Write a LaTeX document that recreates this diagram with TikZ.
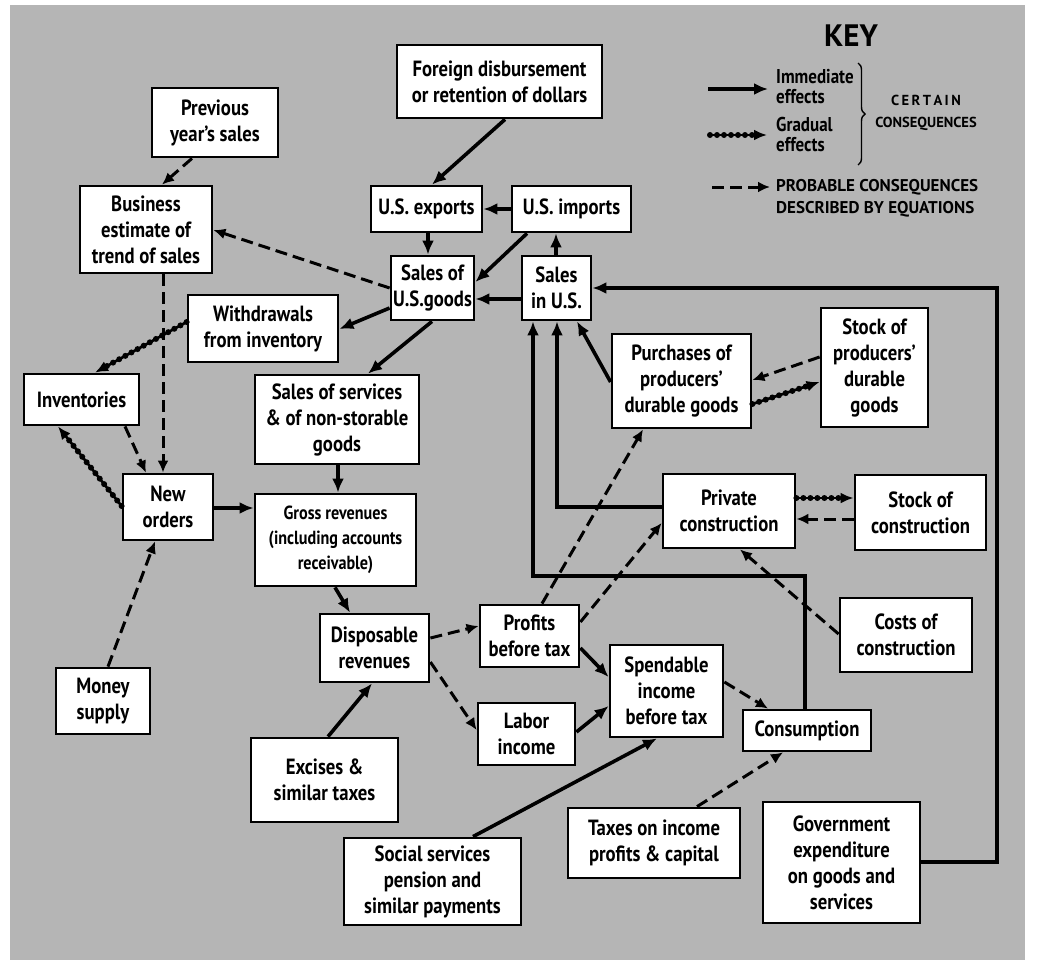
\documentclass[tikz,border=0pt]{standalone}
\usepackage{fontspec}
\setmainfont[FakeStretch=0.85]{PT Sans}
\newfontfamily\keyfont{PT Sans}
\usetikzlibrary{arrows.meta,decorations.pathreplacing}
\newcommand\mybox[6]{\node[box, minimum width={(#4)-(#2)}, minimum height={(#5)-(#3)}] (#1) at ({((#2)+(#4))/2},{((#3)+(#5))/2}) {#6};}
\tikzset{
 box/.style={draw, line width=2.8pt, fill=white, inner sep=1pt, align=center, font=\bfseries\fontsize{22}{26}\selectfont},
 imm/.style={line width=3.6pt, -{Latex[length=14pt,width=12pt]}},
 prob/.style={line width=3pt, dash pattern=on 12pt off 6pt, -{Latex[length=12pt,width=11pt]}},
 grad/.style={line width=2.6pt, -{Latex[length=13pt,width=11pt]}, postaction={draw, line width=6pt, dash pattern=on 0pt off 7pt, line cap=round, -, shorten >=12pt}},
 keytxt/.style={align=left, anchor=west, inner sep=0pt, font=\bfseries\fontsize{20}{20}\selectfont},
 keycaps/.style={align=left, anchor=west, inner sep=0pt, font=\keyfont\bfseries\fontsize{17}{22}\selectfont},
}
\begin{document}
\begin{tikzpicture}[x=1pt,y=-1pt]
\useasboundingbox (0,0) rectangle (1040,964);
\fill[white] (0,0) rectangle (1040,964);
\fill[black!29] (10,5) rectangle (1025,960);

% boxes
\mybox{foreign}{397}{45}{602}{118}{Foreign disbursement\\or retention of dollars}
\mybox{prev}{152}{88}{278}{157}{Previous\\year’s sales}
\mybox{bizest}{80}{186}{212}{273}{Business\\estimate of\\trend of sales}
\mybox{exports}{371}{186}{482}{232}{U.S. exports}
\mybox{imports}{512}{186}{631}{232}{U.S. imports}
\mybox{sg}{391}{256}{474}{320}{Sales of\\U.S.goods}
\mybox{su}{522}{256}{591}{320}{Sales\\in U.S.}
\mybox{wd}{188}{295}{338}{362}{Withdrawals\\from inventory}
\mybox{inv}{24}{374}{139}{425}{Inventories}
\mybox{svc}{255}{375}{419}{464}{Sales of services\\\& of non-storable\\goods}
\mybox{no}{123}{474}{213}{540}{New\\orders}
\node[box, minimum width=161, minimum height=92, font=\bfseries\fontsize{19}{25}\selectfont] (gr) at (335.5,540) {Gross revenues\\(including accounts\\receivable)};
\mybox{disp}{320}{614}{429}{682}{Disposable\\revenues}
\mybox{pr}{480}{605}{579}{667}{Profits\\before tax}
\mybox{lab}{478}{703}{575}{765}{Labor\\income}
\mybox{sp}{610}{645}{723}{737}{Spendable\\income\\before tax}
\mybox{con}{743}{710}{871}{751}{Consumption}
\mybox{mo}{56}{668}{150}{734}{Money\\supply}
\mybox{ex}{251}{738}{398}{822}{Excises \&\\similar taxes}
\mybox{so}{344}{838}{521}{925}{Social services\\pension and\\similar payments}
\mybox{tx}{568}{808}{740}{878}{Taxes on income\\profits \& capital}
\mybox{gov}{763}{802}{920}{923}{Government\\expenditure\\on goods and\\services}
\mybox{pu}{612}{334}{751}{428}{Purchases of\\producers’\\durable goods}
\mybox{spd}{821}{308}{928}{427}{Stock of\\producers’\\durable\\goods}
\mybox{pc}{663}{474}{795}{548}{Private\\construction}
\mybox{sc}{855}{475}{986}{550}{Stock of\\construction}
\mybox{cc}{840}{598}{972}{672}{Costs of\\construction}

% connectors
\draw[imm] (505,0 |- foreign.south) -- (432,0 |- exports.north);
\draw[imm] (imports.west) -- (exports.east);
\draw[imm] (428,0 |- exports.south) -- (428,0 |- sg.north);
\draw[imm] (527,0 |- imports.south) -- (sg.east |- 0,282);
\draw[imm] (556,0 |- su.north) -- (556,0 |- imports.south);
\draw[imm] (su.west |- 0,299) -- (sg.east |- 0,299);
\draw[prob] (sg.west |- 0,288) -- (bizest.east |- 0,230);
\draw[prob] (192,0 |- prev.south) -- (162,0 |- bizest.north);
\draw[prob] (163,0 |- bizest.south) -- (163,0 |- no.north);
\draw[imm] (sg.west |- 0,308) -- (wd.east |- 0,329);
\draw[grad] (wd.west |- 0,322) -- (95,0 |- inv.north);
\draw[imm] (432,0 |- sg.south) -- (368,0 |- svc.north);
\draw[prob] (125,0 |- inv.south) -- (146,0 |- no.north);
\draw[grad] (no.west |- 0,506) -- (58,0 |- inv.south);
\draw[imm] (no.east |- 0,508) -- (gr.west |- 0,508);
\draw[prob] (108,0 |- mo.north) -- (155,0 |- no.south);
\draw[imm] (338,0 |- svc.south) -- (338,0 |- gr.north);
\draw[imm] (335,0 |- gr.south) -- (350,0 |- disp.north);
\draw[prob] (disp.east |- 0,638) -- (pr.west |- 0,626);
\draw[prob] (disp.east |- 0,662) -- (lab.west |- 0,730);
\draw[imm] (328,0 |- ex.north) -- (372,0 |- disp.south);
\draw[imm] (pr.east |- 0,648) -- (sp.west |- 0,677);
\draw[imm] (lab.east |- 0,732) -- (sp.west |- 0,706);
\draw[prob] (542,0 |- pr.north) -- (643,0 |- pu.south);
\draw[prob] (pr.east |- 0,622) -- (pc.west |- 0,523);
\draw[prob] (sp.east |- 0,682) -- (768,0 |- con.north);
\draw[imm] (473,0 |- so.north) -- (657,0 |- sp.south);
\draw[prob] (697,0 |- tx.north) -- (783,0 |- con.south);
\draw[prob] (cc.west |- 0,634) -- (740,0 |- pc.south);
\draw[grad] (pc.east |- 0,498) -- (sc.west |- 0,498);
\draw[prob] (sc.west |- 0,519) -- (pc.east |- 0,519);
\draw[grad] (pu.east |- 0,404) -- (spd.west |- 0,382);
\draw[prob] (spd.west |- 0,357) -- (pu.east |- 0,380);
\draw[imm] (pu.west |- 0,382) -- (577,0 |- su.south);
\draw[imm] (pc.west |- 0,507) -| (557,0 |- su.south);
\draw[imm] (805,0 |- con.north) |- (533,576) -- (533,0 |- su.south);
\draw[imm] (gov.east |- 0,862) -| (997,288) -- (su.east |- 0,288);

% key
\node[font=\keyfont\bfseries\fontsize{31}{33}\selectfont, inner sep=0pt] (keyt) at (851,36) {KEY};
\coordinate (k1a) at (708,89); \coordinate (k1b) at (768,89);
\coordinate (k2a) at (710,135); \coordinate (k2b) at (767,135);
\coordinate (k3a) at (712,187); \coordinate (k3b) at (770,187);
\draw[imm] (k1a) -- (k1b);
\draw[grad] (k2a) -- (k2b);
\draw[prob] (k3a) -- (k3b);
\node[keytxt] (kimm) at (776,87) {Immediate\\effects};
\node[keytxt] (kgrad) at (776,134) {Gradual\\effects};
\coordinate (bra) at (858,63); \coordinate (brb) at (858,165);
\draw[decorate, decoration={brace, amplitude=7pt}, line width=1.4pt] (bra) -- (brb);
\node[font=\keyfont\bfseries\fontsize{14.5}{22}\selectfont, align=center, inner sep=0pt] (kcert) at (926,113) {C\,E\,R\,T\,A\,I\,N\\CONSEQUENCES};
\node[keycaps] (kprob) at (776,198) {PROBABLE CONSEQUENCES\\DESCRIBED BY EQUATIONS};
\end{tikzpicture}
\end{document}
